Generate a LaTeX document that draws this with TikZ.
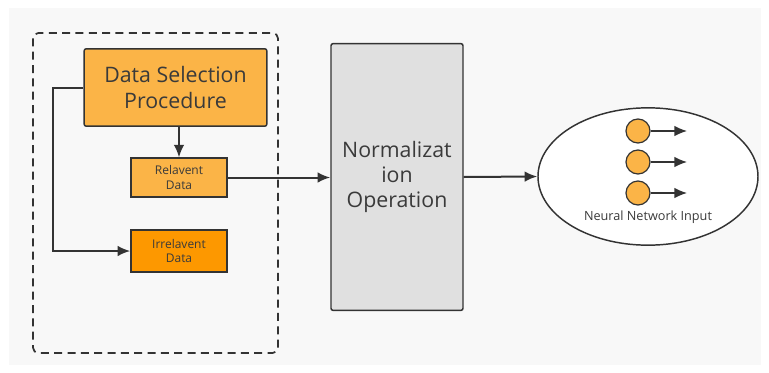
\documentclass[tikz,border=0pt]{standalone}
\usepackage{fontspec}
\setmainfont{Open Sans}
\usepackage{xcolor}
\usetikzlibrary{calc,arrows,arrows.meta}
\usetikzlibrary{shapes}

\definecolor{selorange}{HTML}{FBB447}
\definecolor{irrorange}{HTML}{FD9800}
\definecolor{normgray}{HTML}{E0E0E0}
\definecolor{linegray}{HTML}{333333}
\definecolor{textgray}{HTML}{3A3A3A}
\definecolor{bggray}{HTML}{F8F8F8}

\begin{document}
\begin{tikzpicture}[x=0.75pt,y=-0.75pt,thick,
box node/.style = {rectangle,draw=linegray,line width=1.1pt,rounded corners=1.5pt,
  text=textgray,align=center,inner sep=1pt},
in node/.style = {circle,draw=linegray,fill=selorange,line width=0.9pt,minimum size=18pt,inner sep=0pt},
link/.style = {draw=linegray,line width=1.5pt,-{Latex[length=9.5pt,width=8pt]}}]
\useasboundingbox (0,0) rectangle (769,372);
\fill[bggray] (9,8) rectangle (761,365);

% selection stage
\draw[linegray,line width=1.3pt,dash pattern=on 6pt off 4pt,rounded corners=4pt] (33,33) rectangle (278,353);
\node[box node,fill=selorange,minimum width=137pt,minimum height=58pt,font=\fontsize{16}{19}\selectfont] at (175.5,87.5) (dsp) {Data Selection\\Procedure};
\node[box node,fill=selorange,minimum width=72pt,minimum height=29pt,font=\fontsize{9}{11}\selectfont,rounded corners=0pt] at (179,177.5) (rel) {Relavent\\Data};
\node[box node,fill=irrorange,minimum width=72pt,minimum height=31.5pt,font=\fontsize{9}{11}\selectfont,rounded corners=0pt] at (179,251) (irr) {Irrelavent\\Data};

% normalization stage
\node[box node,fill=normgray,minimum width=99pt,minimum height=200pt,font=\fontsize{16}{19}\selectfont] at (397,177) (norm) {Normalizat\\ion\\Operation};

% network input
\node[ellipse,draw=linegray,fill=white,line width=1.1pt,minimum width=165pt,minimum height=103pt] at (648,176.5) (nni) {};
\node[in node] at (638,131) (i1) {};
\node[in node] at (638,162) (i2) {};
\node[in node] at (638,193) (i3) {};
\coordinate (o1) at (687,131);
\coordinate (o2) at (687,162);
\coordinate (o3) at (687,193);
\node[text=textgray,font=\fontsize{9.5}{11}\selectfont] at (648,217) (lbl) {Neural Network Input};

\draw[link] (dsp.south -| rel.north) -- (rel.north);
\draw[link] (dsp.west) -- ++(-30,0) |- (irr.west);
\draw[link] (rel.east) -- (norm.west |- rel.east);
\draw[link] (norm.east) -- (nni.west);
\draw[link,line width=1pt] (i1) -- (o1);
\draw[link,line width=1pt] (i2) -- (o2);
\draw[link,line width=1pt] (i3) -- (o3);
\end{tikzpicture}
\end{document}
